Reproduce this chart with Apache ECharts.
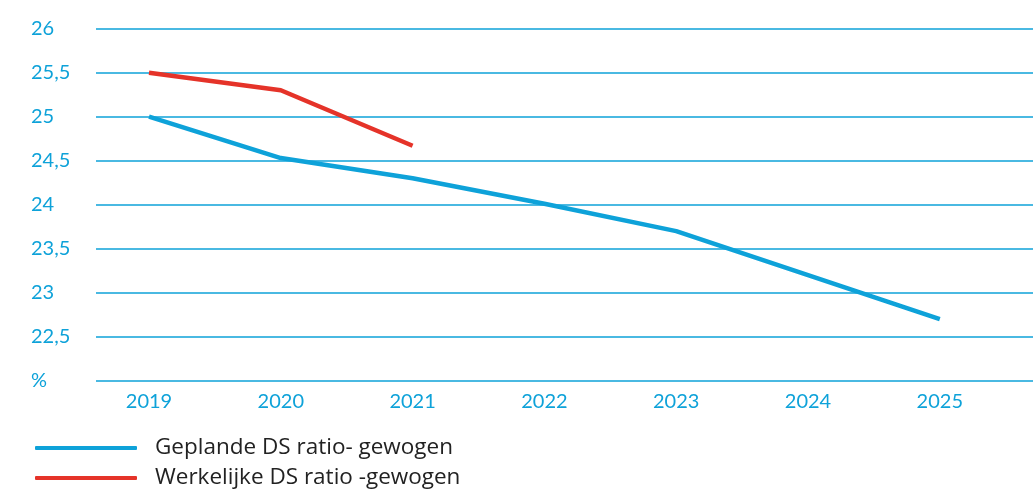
<!DOCTYPE html>
<html>
<head>
<meta charset="utf-8">
<script src="https://cdn.jsdelivr.net/npm/echarts@6/dist/echarts.min.js"></script>
<style>
  html, body { margin: 0; padding: 0; background: #fff; }
  #chart { width: 1033px; height: 489px; }
</style>
</head>
<body>
<div id="chart"></div>
<script>
  // data
  var years = [2019, 2020, 2021, 2022, 2023, 2024, 2025];
  var gepland = [25.0, 24.53, 24.3, 24.01, 23.7, 23.2, 22.7];
  var werkelijk = [25.5, 25.3, 24.67];
  var seriesNames = ["Geplande DS ratio- gewogen", "Werkelijke DS ratio -gewogen"];

  var blue = "#0ea2d9";
  var red = "#e53329";
  var font = "Lato";

  function pairs(vals) {
    return vals.map(function (v, i) { return [years[i], v]; });
  }

  // one legend per row so they stack and never wrap
  function legendRow(name, top) {
    return {
      orient: "vertical",
      left: 35,
      top: top,
      padding: 0,
      itemWidth: 102,
      itemHeight: 4,
      icon: "roundRect",
      textStyle: {
        color: "#222",
        fontFamily: "Open Sans",
        fontSize: 22.5,
        lineHeight: 24,
        padding: [0, 0, 0, 13]
      },
      data: [name]
    };
  }

  var chart = echarts.init(document.getElementById("chart"));
  chart.setOption({
    animation: false,
    grid: {
      left: 96,
      right: 0,
      top: 28.7,
      bottom: 108.3
    },
    xAxis: {
      type: "value",
      min: 2018.598,
      max: 2025.707,
      axisLine: { show: false },
      axisTick: { show: false },
      splitLine: { show: false },
      axisLabel: {
        customValues: years,
        margin: 11,
        color: blue,
        fontFamily: font,
        fontSize: 20,
        formatter: function (v) { return String(v); }
      }
    },
    yAxis: {
      type: "value",
      min: 22,
      max: 26,
      interval: 0.5,
      axisLine: { show: false },
      axisTick: { show: false },
      splitLine: {
        lineStyle: { color: blue, width: 1.5 }
      },
      axisLabel: {
        align: "left",
        margin: 65,
        color: blue,
        fontFamily: font,
        fontSize: 20,
        formatter: function (v) {
          if (v === 22) return "%";
          return String(v).replace(".", ",");
        }
      }
    },
    legend: [legendRow(seriesNames[0], 436), legendRow(seriesNames[1], 466)],
    series: [
      {
        name: seriesNames[0],
        type: "line",
        data: pairs(gepland),
        showSymbol: false,
        symbol: "none",
        lineStyle: { color: blue, width: 4.5 },
        itemStyle: { color: blue }
      },
      {
        name: seriesNames[1],
        type: "line",
        data: pairs(werkelijk),
        showSymbol: false,
        symbol: "none",
        lineStyle: { color: red, width: 4.5 },
        itemStyle: { color: red }
      }
    ]
  });
</script>
</body>
</html>
